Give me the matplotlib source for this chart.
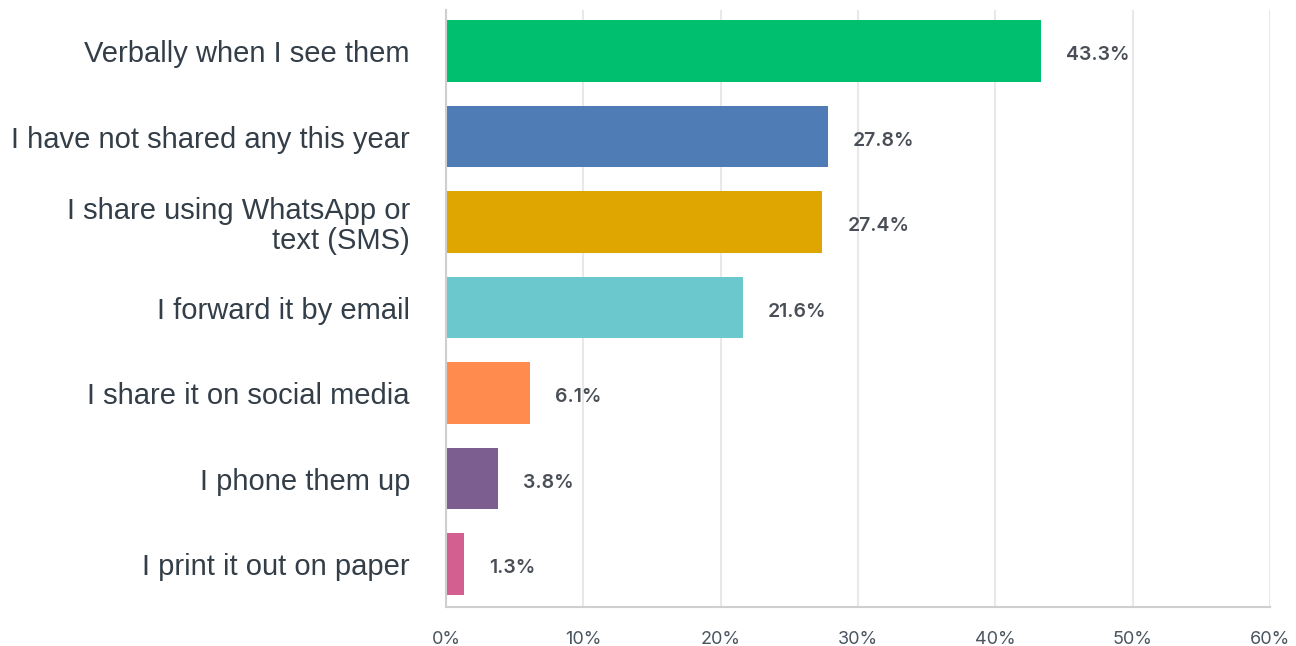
import matplotlib
matplotlib.use("Agg")
import matplotlib.pyplot as plt
from matplotlib.ticker import FuncFormatter

categories = [
    "Verbally when I see them",
    "I have not shared any this year",
    "I share using WhatsApp or\ntext (SMS)",
    "I forward it by email",
    "I share it on social media",
    "I phone them up",
    "I print it out on paper",
]
values = [43.3, 27.8, 27.4, 21.6, 6.1, 3.8, 1.3]
colors = ["#00BF6F", "#507CB6", "#DFA500", "#6BC8CD", "#FF8B4F", "#7D5E90", "#D25F90"]
xticks = [0, 10, 20, 30, 40, 50, 60]

DPI = 100
fig = plt.figure(figsize=(12.96, 6.46), dpi=DPI)
ax = fig.add_axes([446 / 1296, 1 - 607 / 646, (1270 - 446) / 1296, (607 - 10) / 646])

ypos = list(range(len(categories)))
ax.barh(ypos, values, height=0.72, color=colors, zorder=3)
ax.set_ylim(6.5, -0.48)
ax.set_xlim(0, 60)

for y, v in zip(ypos, values):
    ax.annotate(f"{v:.1f}%", xy=(v, y), xytext=(25, -4), textcoords="offset pixels",
                ha="left", va="center", fontsize=14, fontweight="semibold",
                color="#4a4f57", family="Inter", zorder=4)

ax.set_yticks(ypos)
ax.set_yticklabels(categories, family="Liberation Sans", fontsize=21, color="#333e48",
                   ha="right", linespacing=1.1)
ax.tick_params(axis="y", length=0, pad=26)

ax.set_xticks(xticks)
ax.xaxis.set_major_formatter(FuncFormatter(lambda x, p: f"{int(x)}%"))
for lbl in ax.get_xticklabels():
    lbl.set_family("Inter")
    lbl.set_fontsize(13)
    lbl.set_color("#4a5560")
ax.tick_params(axis="x", length=0, pad=17)

ax.grid(axis="x", color="#e8e8e8", linewidth=1.5, zorder=0)
ax.grid(axis="y", visible=False)
for s in ["top", "right"]:
    ax.spines[s].set_visible(False)
ax.spines["left"].set_color("#cfcfcf")
ax.spines["left"].set_linewidth(1.5)
ax.spines["bottom"].set_color("#cfcfcf")
ax.spines["bottom"].set_linewidth(1.5)
ax.spines["left"].set_zorder(5)

fig.savefig("out.png", dpi=DPI)
